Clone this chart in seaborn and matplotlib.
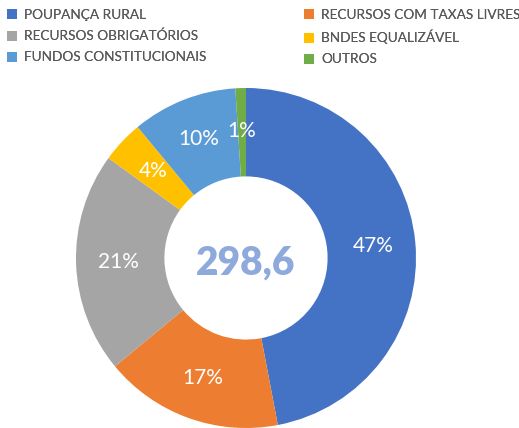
import matplotlib.pyplot as plt
import seaborn as sns

categorias = [
    "POUPANÇA RURAL",
    "RECURSOS COM TAXAS LIVRES",
    "RECURSOS OBRIGATÓRIOS",
    "BNDES EQUALIZÁVEL",
    "FUNDOS CONSTITUCIONAIS",
    "OUTROS",
]
valores = [47, 17, 21, 4, 10, 1]
cores = ["#4472C4", "#ED7D31", "#A5A5A5", "#FFC000", "#5B9BD5", "#70AD47"]
total = "298,6"

sns.set_theme(style="white")
plt.rcParams["font.family"] = ["Lato", "DejaVu Sans"]

W, H = 519, 428
fig = plt.figure(figsize=(W / 100, H / 100), dpi=100)
ax = fig.add_axes([76 / W, 0.0, 340 / W, 340 / H])

wedges, texts, autotexts = ax.pie(
    valores,
    colors=cores,
    startangle=90,
    counterclock=False,
    autopct="%1.0f%%",
    pctdistance=0.75,
    wedgeprops=dict(width=0.52, linewidth=0),
    textprops=dict(color="white", fontsize=15),
)
ax.set_xlim(-1, 1)
ax.set_ylim(-1, 1)
ax.set_aspect("equal")
ax.text(0, -0.03, total, ha="center", va="center", fontsize=28,
        fontweight="heavy", color="#8EA9DB")

# legenda: duas colunas posicionadas à mão
for col, x0 in [(0, 7), (1, 304)]:
    idx = [col, col + 2, col + 4]
    leg = fig.legend(
        [wedges[i] for i in idx],
        [categorias[i] for i in idx],
        loc="upper left",
        bbox_to_anchor=(x0 / W, 1 - 9 / H),
        frameon=False,
        fontsize=9.8,
        labelcolor="#595959",
        handlelength=0.75,
        handleheight=0.75,
        handletextpad=0.5,
        labelspacing=0.66,
        borderpad=0,
        borderaxespad=0,
    )
    fig.add_artist(leg)

fig.savefig("out.png", dpi=100)
